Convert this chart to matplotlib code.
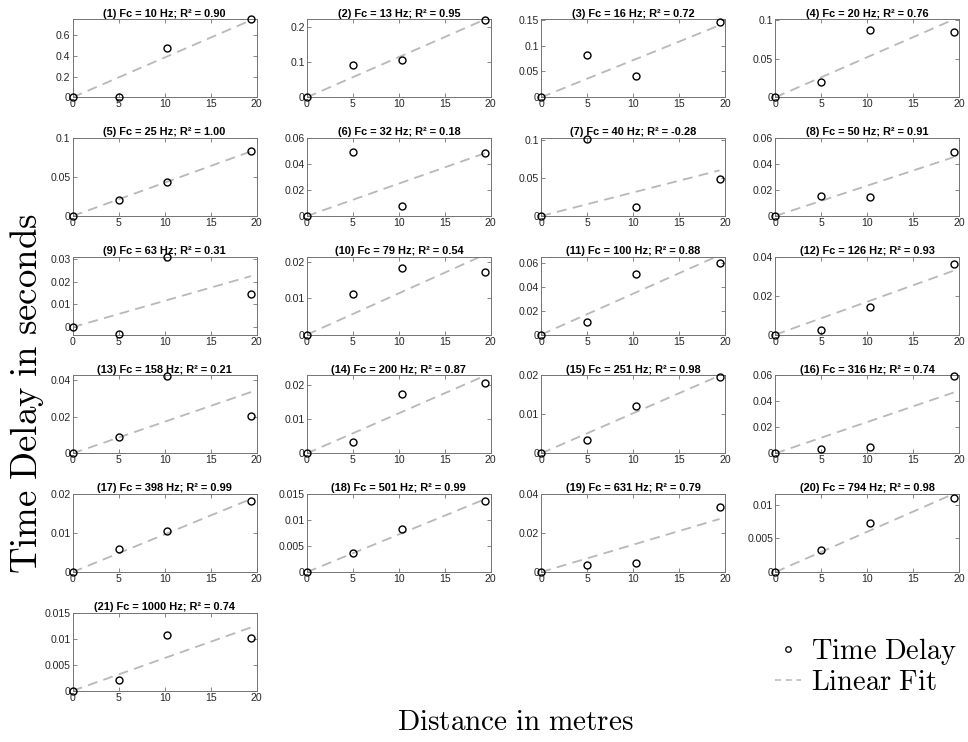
import numpy as np
import matplotlib
matplotlib.use("Agg")
import matplotlib.pyplot as plt
from matplotlib.ticker import MultipleLocator, FuncFormatter
from matplotlib.lines import Line2D

# distances of the microphones (m)
distance = np.array([0, 5, 10.3, 19.4])

# centre frequencies and R^2 of each fit
fc = [10, 13, 16, 20, 25, 32, 40, 50, 63, 79, 100, 126, 158, 200, 251, 316,
      398, 501, 631, 794, 1000]
r2 = [0.90, 0.95, 0.72, 0.76, 1.00, 0.18, -0.28, 0.91, 0.31, 0.54, 0.88, 0.93,
      0.21, 0.87, 0.98, 0.74, 0.99, 0.99, 0.79, 0.98, 0.74]

# time delays (s) at each distance
delays = [
    [0, 0, 0.472, 0.751],
    [0, 0.0906, 0.105, 0.219],
    [0, 0.082, 0.041, 0.145],
    [0, 0.0194, 0.0875, 0.0845],
    [0, 0.0207, 0.044, 0.083],
    [0, 0.0494, 0.0073, 0.0486],
    [0, 0.101, 0.012, 0.048],
    [0, 0.0153, 0.0145, 0.0494],
    [0, -0.0032, 0.0309, 0.0147],
    [0, 0.0111, 0.0184, 0.0172],
    [0, 0.0109, 0.0506, 0.0603],
    [0, 0.0026, 0.0141, 0.0361],
    [0, 0.0089, 0.0425, 0.0204],
    [0, 0.0034, 0.0174, 0.0207],
    [0, 0.0035, 0.0122, 0.0195],
    [0, 0.0034, 0.0052, 0.0595],
    [0, 0.006, 0.0106, 0.0181],
    [0, 0.0036, 0.0083, 0.0136],
    [0, 0.0035, 0.0045, 0.0334],
    [0, 0.0033, 0.00725, 0.011],
    [0, 0.0021, 0.0107, 0.0102],
]

# y limits and tick spacing of each panel
ylims = [(0, 0.751), (0, 0.221), (0, 0.151), (0, 0.101), (0, 0.1), (0, 0.06),
         (0, 0.102), (0, 0.06), (-0.0033, 0.031), (0, 0.0215), (0, 0.0655),
         (0, 0.04), (0, 0.0427), (0, 0.0229), (0, 0.02), (0, 0.06), (0, 0.02),
         (0, 0.015), (0, 0.04), (0, 0.0116), (0, 0.015)]
ystep = [0.2, 0.1, 0.05, 0.05, 0.05, 0.02, 0.05, 0.02, 0.01, 0.01, 0.02, 0.02,
         0.02, 0.01, 0.01, 0.02, 0.01, 0.005, 0.02, 0.005, 0.005]

plt.rcParams['font.family'] = ['Liberation Sans', 'DejaVu Sans']
plt.rcParams['mathtext.fontset'] = 'cm'

fig, axes = plt.subplots(6, 4, figsize=(9.68, 7.42), dpi=100)
fig.subplots_adjust(left=0.0751, right=0.991, top=0.974, bottom=0.0691,
                    wspace=0.274, hspace=0.522)

spine_col = '0.45'
fit_col = (0.72, 0.72, 0.72)
fmt = FuncFormatter(lambda v, p: '%g' % round(v, 6))

for i, ax in enumerate(axes.flat):
    if i >= len(fc):
        ax.axis('off')
        continue
    y = np.array(delays[i])
    # least squares fit through the origin
    slope = np.sum(distance * y) / np.sum(distance ** 2)
    ax.plot(distance[[0, -1]], slope * distance[[0, -1]], '--', color=fit_col,
            lw=1.3, dashes=(5.5, 3.5))
    ax.plot(distance, y, 'o', mfc='none', mec='k', ms=5, mew=1.0, clip_on=False,
            zorder=5)
    ax.set_xlim(0, 20)
    ax.set_ylim(*ylims[i])
    ax.xaxis.set_major_locator(MultipleLocator(5))
    ax.yaxis.set_major_locator(MultipleLocator(ystep[i]))
    ax.yaxis.set_major_formatter(fmt)
    ax.tick_params(direction='in', length=3, width=0.6, labelsize=7.6,
                   top=True, right=True, colors=spine_col, labelcolor='#262626',
                   pad=1.5)
    for s in ax.spines.values():
        s.set_color(spine_col)
        s.set_linewidth(0.7)
    ax.set_title('(%d) Fc = %d Hz; R² = %.2f' % (i + 1, fc[i], r2[i]),
                 fontsize=7.9, fontweight='bold', pad=2)

fig.text(0.028, 0.47, r'$\mathrm{Time\ Delay\ in\ seconds}$', rotation=90,
         fontsize=26.5, ha='center', va='center')
fig.text(0.532, 0.027, r'$\mathrm{Distance\ in\ metres}$', fontsize=21,
         ha='center', va='center')

handles = [Line2D([], [], ls='none', marker='o', mfc='none', mec='k', ms=4,
                  mew=0.9),
           Line2D([], [], ls='--', color=fit_col, lw=1.1, dashes=(4, 3))]
fig.legend(handles, [r'$\mathrm{Time\ Delay}$', r'$\mathrm{Linear\ Fit}$'],
           loc='center left', bbox_to_anchor=(0.801, 0.102), frameon=False,
           fontsize=20.5, handlelength=0.9, handletextpad=0.35,
           labelspacing=0.1, borderaxespad=0, borderpad=0)

fig.savefig('out.png', dpi=100)
